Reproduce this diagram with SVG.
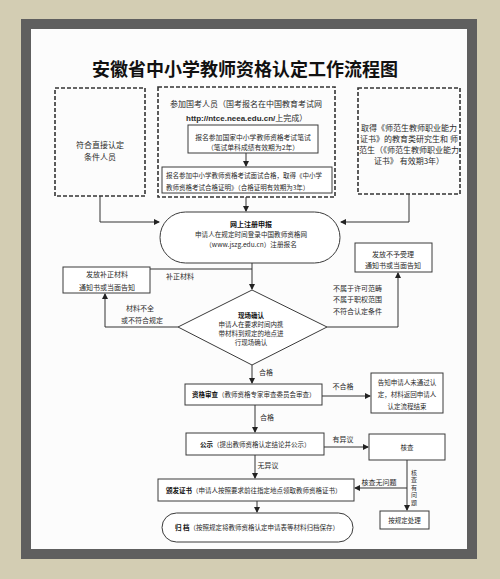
<svg xmlns="http://www.w3.org/2000/svg" width="500" height="579" viewBox="0 0 500 579">
<style>
.t{font-family:"Noto Sans CJK SC","Liberation Sans",sans-serif;fill:#2a2a2a}
.c{text-anchor:middle}
.b{font-weight:bold;fill:#111}
.box{fill:#fff;stroke:#3a3a3a;stroke-width:1}
.dash{fill:none;stroke:#333;stroke-width:1.6;stroke-dasharray:4 2}
.ln{fill:none;stroke:#333;stroke-width:1}
.arr{marker-end:url(#ah)}
.s8{font-size:8px}.s7{font-size:7px}.s65{font-size:6.5px}
</style>
<defs>
<marker id="ah" markerWidth="6" markerHeight="6" refX="5" refY="3" orient="auto" markerUnits="userSpaceOnUse">
<path d="M0,0 L6,3 L0,6 Z" fill="#222"/>
</marker>
</defs>
<rect x="0" y="0" width="500" height="579" fill="#d3cdb3"/>
<rect x="21" y="19" width="456" height="540" fill="#5f5f5f"/>
<rect x="31" y="29" width="436" height="520" fill="#fcfcfc"/>
<text class="t c b" x="245" y="76" font-size="18">安徽省中小学教师资格认定工作流程图</text>

<g id="connectors">
<path class="ln arr" d="M100,196 V222 H159"/>
<path class="ln arr" d="M409,194 V222 H341"/>
<path class="ln arr" d="M246,153 V166"/>
<path class="ln arr" d="M246,197 V211"/>
<path class="ln arr" d="M252,263 V289"/>
<path class="ln" d="M150,269 H252"/>
<path class="ln arr" d="M178,327 H105 V294"/>
<path class="ln arr" d="M327,327 H398 V273"/>
<path class="ln arr" d="M252,365 V383"/>
<path class="ln arr" d="M322,396 H370"/>
<path class="ln arr" d="M255,405 V432"/>
<path class="ln arr" d="M324,447 H368"/>
<path class="ln arr" d="M407,460 V510"/>
<path class="ln arr" d="M407,488 H355"/>
<path class="ln arr" d="M255,455 V478"/>
<path class="ln arr" d="M257,501 V512"/>
<text class="t c s7" x="180" y="278.5">补正材料</text>
<text class="t c s7" x="140" y="311">材料不全</text>
<text class="t c s7" x="142" y="323">或不符合规定</text>
<text class="t s7" x="333" y="290.5">不属于许可范畴</text>
<text class="t s7" x="333" y="302">不属于职权范围</text>
<text class="t s7" x="333" y="313.5">不符合认定条件</text>
<text class="t c s7" x="266" y="375">合格</text>
<text class="t c s7" x="343" y="389">不合格</text>
<text class="t c s7" x="267" y="420">合格</text>
<text class="t c s7" x="343" y="442">有异议</text>
<text class="t c s7" x="268" y="468">无异议</text>
<text class="t c s7" x="379" y="485">核查无问题</text>
<text class="t c" font-size="6" x="414" y="474.5">核</text>
<text class="t c" font-size="6" x="414" y="482">查</text>
<text class="t c" font-size="6" x="414" y="489.5">有</text>
<text class="t c" font-size="6" x="414" y="497">问</text>
<text class="t c" font-size="6" x="414" y="504.5">题</text>
</g>

<g id="direct">
<rect class="dash" x="55" y="88" width="90" height="108"/>
<text class="t c s8" x="100" y="148">符合直接认定</text>
<text class="t c s8" x="100" y="159.5">条件人员</text>
</g>

<g id="exam">
<rect class="dash" x="158" y="87" width="177" height="110"/>
<text class="t s8" x="170" y="107">参加国考人员（国考报名在中国教育考试网</text>
<text class="t s8" x="186" y="120.5"><tspan font-family="Liberation Sans" font-weight="bold">http://ntce.neea.edu.cn/</tspan>上完成）</text>
</g>
<g id="written">
<rect class="box" x="188" y="125" width="130" height="28"/>
<text class="t c" font-size="6.8" x="253" y="139.5">报名参加国家中小学教师资格考试笔试</text>
<text class="t c" font-size="6.8" x="253" y="149.5">（笔试单科成绩有效期为2年）</text>
</g>
<g id="interview">
<rect class="box" x="162" y="167" width="170" height="26"/>
<text class="t" font-size="6.5" x="166" y="177.5">报名参加中小学教师资格考试面试合格，取得《中小学</text>
<text class="t" font-size="6.5" x="166" y="189.5">教师资格考试合格证明》（合格证明有效期为3年）</text>
</g>

<g id="normal">
<rect class="dash" x="358" y="88" width="102" height="106"/>
<text class="t c s8" x="409" y="131">取得《师范生教师职业能力</text>
<text class="t c s8" x="409" y="142">证书》的教育类研究生和 师</text>
<text class="t c s8" x="409" y="153">范生（《师范生教师职业能力</text>
<text class="t c s8" x="409" y="164">证书》 有效期3年）</text>
</g>

<g id="register">
<rect class="box" x="160" y="212" width="180" height="51" rx="25.5"/>
<text class="t c b s7" x="251" y="227">网上注册申报</text>
<text class="t c" font-size="6.6" x="251" y="237">申请人在规定时间登录中国教师资格网</text>
<text class="t c" font-size="6.6" x="251" y="246.5">（www.jszg.edu.cn）注册报名</text>
</g>

<g id="supplement">
<rect class="box" x="63" y="267" width="87" height="26"/>
<text class="t c s7" x="107" y="277">发放补正材料</text>
<text class="t c s7" x="107" y="289.5">通知书或当面告知</text>
</g>

<g id="reject">
<rect class="box" x="355" y="243" width="77" height="29"/>
<text class="t c s7" x="393" y="256.5">发放不予受理</text>
<text class="t c s7" x="393" y="268">通知书或当面告知</text>
</g>

<g id="confirm">
<path class="box" d="M252,290 L327,327 L252,365 L178,327 Z"/>
<text class="t c b s65" x="251" y="317.5">现场确认</text>
<text class="t c s65" x="251" y="326.5">申请人在要求时间内携</text>
<text class="t c s65" x="251" y="335.5">带材料到规定的地点进</text>
<text class="t c s65" x="251" y="344.5">行现场确认</text>
</g>

<g id="review">
<rect class="box" x="185" y="384" width="137" height="21"/>
<text class="t s65" x="192" y="396.5"><tspan class="b">资格审查</tspan>（教师资格专家审查委员会审查）</text>
</g>

<g id="fail">
<rect class="box" x="371" y="373" width="72" height="40"/>
<text class="t c s65" x="407" y="384.5">告知申请人未通过认</text>
<text class="t c s65" x="407" y="396.5">定，材料返回申请人</text>
<text class="t c s65" x="407" y="408.5">认定流程结束</text>
</g>

<g id="publicity">
<rect class="box" x="186" y="433" width="138" height="22"/>
<text class="t s65" x="200" y="447"><tspan class="b">公示</tspan>（提出教师资格认定结论并公示）</text>
</g>

<g id="check">
<rect class="box" x="369" y="434" width="76" height="26"/>
<text class="t c s65" x="407" y="449.5">核查</text>
</g>

<g id="issue">
<rect class="box" x="158" y="479" width="196" height="22"/>
<text class="t s65" x="166" y="492.5"><tspan class="b">颁发证书</tspan>（申请人按照要求前往指定地点领取教师资格证书）</text>
</g>

<g id="handle">
<rect class="box" x="380" y="511" width="49" height="18"/>
<text class="t c s65" x="404.5" y="522.5">按规定处理</text>
</g>

<g id="archive">
<rect class="box" x="162" y="513" width="191" height="29" rx="14.5"/>
<text class="t s65" x="175" y="530"><tspan class="b">归 档</tspan>（按照规定将教师资格认定申请表等材料归档保存）</text>
</g>
</svg>
